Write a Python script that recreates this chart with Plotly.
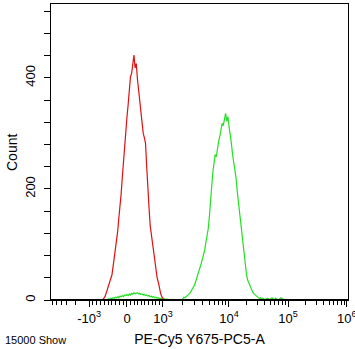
import math
import plotly.graph_objects as go

# Histogram counts per display bin (256 bins across the axis)
red_start = 44
red_counts = [0, 3, 6, 12, 18, 25, 31, 36, 45, 60, 74, 88, 104, 124, 148, 168,
              192, 222, 254, 282, 306, 330, 352, 376, 402, 408, 428, 441, 418,
              426, 398, 378, 352, 336, 318, 300, 292, 282, 240, 212, 166, 134,
              118, 98, 80, 66, 52, 40, 32, 20, 12, 6, 2, 0]

green_start = 47
green_counts = [0, 1, 2, 1, 3, 2, 4, 3, 5, 4, 6, 4, 7, 6, 8, 6, 9, 8, 10, 8,
                11, 9, 12, 10, 13, 11, 12, 13, 11, 12, 10, 11, 9, 10, 8, 9, 7,
                8, 6, 7, 5, 6, 4, 5, 3, 4, 2, 3, 2, 1, 2, 1, 2, 1, 0, 1, 0, 1,
                0, 0, 1, 0, 0, 1, 0, 0,
                2, 5, 4, 6, 8, 9, 12, 15, 18, 22, 26, 32, 38, 46, 54, 60, 66,
                74, 82, 90, 104, 116, 128, 150, 176, 212, 230, 246, 262, 258,
                276, 286, 294, 306, 318, 314, 326, 336, 322, 330, 312, 300,
                282, 262, 250, 232, 220, 196, 176, 158, 142, 128, 104, 80, 58,
                46, 36, 30, 24, 20, 16, 12, 10, 8, 6, 4, 3, 4, 2, 3, 2, 1, 2,
                3, 2, 1, 2, 4, 2, 1, 3, 2, 1, 0, 3, 4, 2, 1, 0]

# Axis labels
major_vals = [-1000, 0, 1000, 10000, 100000, 1000000]
major_text = ["-10<sup>3</sup>", "0", "10<sup>3</sup>", "10<sup>4</sup>",
              "10<sup>5</sup>", "10<sup>6</sup>"]
y_label_vals = [0, 200, 400]

N_BINS = 256
# Bin position of each labelled value on the biexponential display
ANCHOR = {-1000: 32.8, 0: 65.5, 1000: 96.5, 10000: 153.4, 100000: 204.3,
          1000000: 255.0}
NEG_DECADE = 40.0


def disp(v):
    """Biexponential-style display position (in bins) of a raw value."""
    if v in ANCHOR:
        return ANCHOR[v]
    if -1000 <= v <= 0:
        return ANCHOR[0] + v / 1000 * (ANCHOR[0] - ANCHOR[-1000])
    if 0 <= v <= 1000:
        return ANCHOR[0] + v / 1000 * (ANCHOR[1000] - ANCHOR[0])
    if v < -1000:
        return ANCHOR[-1000] - math.log10(-v / 1000) * NEG_DECADE
    d = int(math.floor(math.log10(v)))
    lo, hi = ANCHOR[10 ** d], ANCHOR[10 ** (d + 1)]
    return lo + (math.log10(v) - d) * (hi - lo)


minor_raw = ([-k * 1000 for k in range(2, 10)] + [-k * 100 for k in range(1, 10)]
             + [k * 100 for k in range(1, 10)]
             + [k * 10 ** d for d in (3, 4, 5) for k in range(2, 10)])
minor_pos = [p for p in (disp(v) for v in minor_raw) if 0 <= p <= N_BINS]
major_pos = [disp(v) for v in major_vals]

red_x = [red_start + i + 0.5 for i in range(len(red_counts))]
green_x = [green_start + i + 0.5 for i in range(len(green_counts))]

fig = go.Figure()
fig.add_trace(go.Scatter(x=green_x, y=green_counts, mode="lines",
                         line=dict(color="#22e022", width=1.2), hoverinfo="skip"))
fig.add_trace(go.Scatter(x=red_x, y=red_counts, mode="lines",
                         line=dict(color="#e01010", width=1.2), hoverinfo="skip"))

font = dict(family="Liberation Sans, Arial, sans-serif", color="black")

fig.update_layout(
    width=355, height=349,
    margin=dict(l=51, r=7, t=4, b=49),
    paper_bgcolor="white", plot_bgcolor="white",
    showlegend=False,
    font=dict(size=12, **font),
    xaxis=dict(
        range=[0, N_BINS], showgrid=False, zeroline=False, automargin=False,
        showline=True, linecolor="black", linewidth=1, mirror=True,
        tickmode="array", tickvals=major_pos, ticktext=major_text,
        ticks="outside", ticklen=6, tickwidth=1, tickcolor="black",
        tickfont=dict(size=13, **font), ticklabeloverflow="allow",
        minor=dict(tickmode="array", tickvals=minor_pos, ticks="outside",
                   ticklen=4, tickwidth=1, tickcolor="black"),
        title=dict(text="PE-Cy5 Y675-PC5-A", font=dict(size=14, **font),
                   standoff=9),
    ),
    yaxis=dict(
        range=[0, 533], showgrid=False, zeroline=False, automargin=False,
        showline=True, linecolor="black", linewidth=1, mirror=True,
        tickmode="array", tickvals=y_label_vals,
        ticks="outside", ticklen=6, tickwidth=1, tickcolor="black",
        tickangle=-90, tickfont=dict(size=13, **font), ticklabelstandoff=4,
        minor=dict(dtick=40, tick0=0, ticks="outside", ticklen=6,
                   tickwidth=1, tickcolor="black"),
    ),
    shapes=[dict(type="line", xref="paper", yref="y", x0=0, x1=1, y0=0, y1=0,
                 line=dict(color="black", width=2))],
    annotations=[
        dict(text="Count", xref="paper", yref="paper",
             x=-39 / 297, y=0.5, xanchor="center", yanchor="middle",
             textangle=-90, showarrow=False, font=dict(size=14, **font)),
        dict(text="15000 Show", xref="paper", yref="paper",
             x=-48 / 297, y=-40 / 296, xanchor="left", yanchor="middle",
             showarrow=False, font=dict(size=11, **font)),
    ],
)

fig.write_html("out.html")
